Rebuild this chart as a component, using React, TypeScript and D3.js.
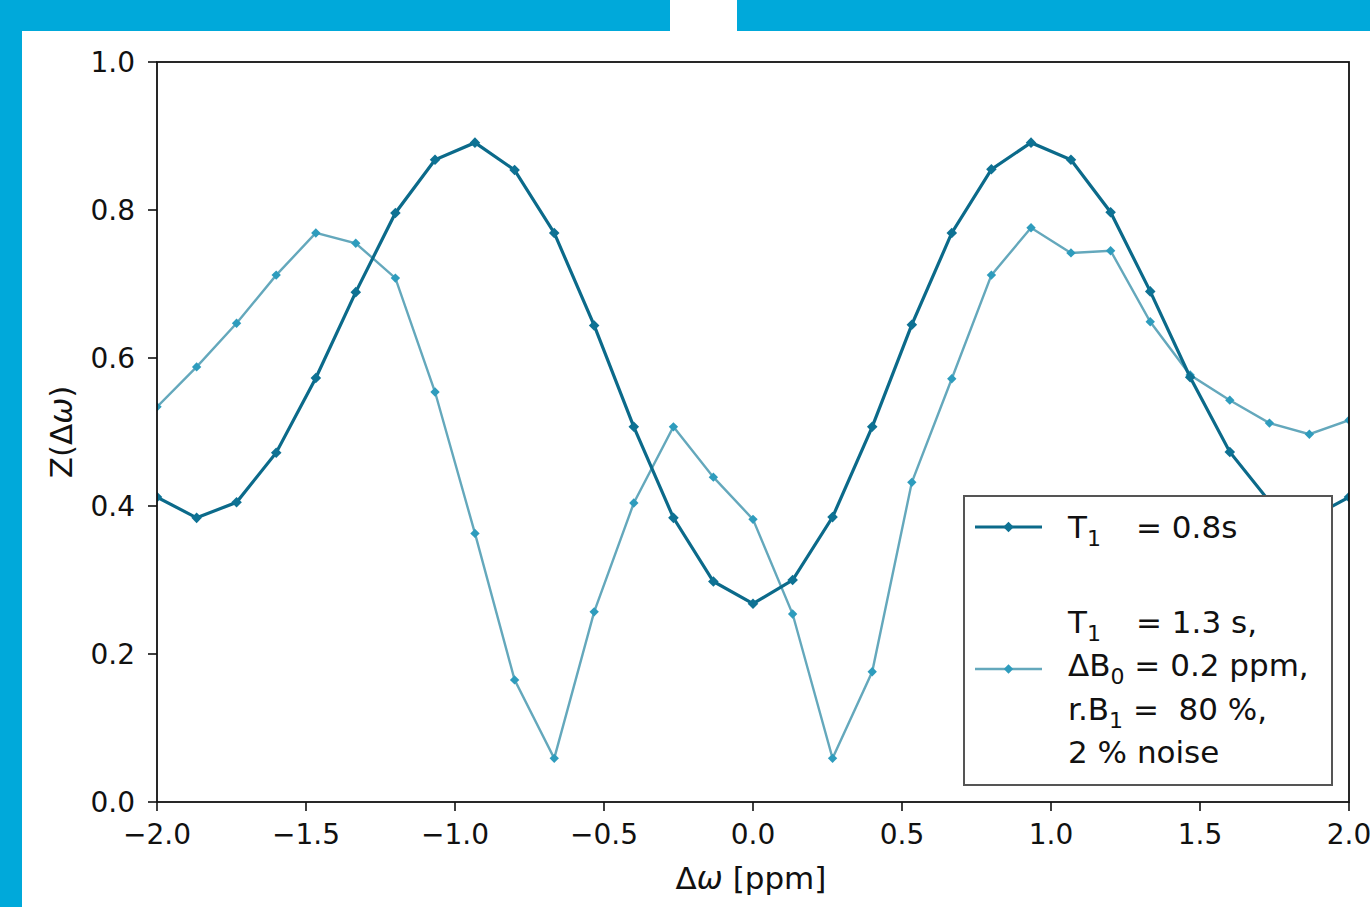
import React from "react";
import * as d3 from "d3";

const xValues = [-2.0, -1.867, -1.733, -1.6, -1.467, -1.333, -1.2, -1.067, -0.933, -0.8, -0.667, -0.533, -0.4, -0.267, -0.133, 0.0, 0.133, 0.267, 0.4, 0.533, 0.667, 0.8, 0.933, 1.067, 1.2, 1.333, 1.467, 1.6, 1.733, 1.867, 2.0];
const seriesT08 = [0.412, 0.384, 0.405, 0.472, 0.573, 0.689, 0.796, 0.868, 0.891, 0.854, 0.769, 0.644, 0.507, 0.384, 0.298, 0.268, 0.300, 0.385, 0.507, 0.645, 0.769, 0.855, 0.891, 0.868, 0.797, 0.690, 0.574, 0.473, 0.406, 0.383, 0.412];
const seriesT13 = [0.534, 0.588, 0.647, 0.712, 0.769, 0.755, 0.708, 0.554, 0.363, 0.165, 0.059, 0.257, 0.404, 0.507, 0.439, 0.382, 0.254, 0.059, 0.176, 0.432, 0.572, 0.712, 0.776, 0.742, 0.745, 0.649, 0.577, 0.543, 0.512, 0.497, 0.516];
const xTicks = [-2.0, -1.5, -1.0, -0.5, 0.0, 0.5, 1.0, 1.5, 2.0];
const yTicks = [0.0, 0.2, 0.4, 0.6, 0.8, 1.0];

const W = 1370, H = 907;
const left = 157, right = 1349, top = 62, bottom = 802;
const FONT = "'DejaVu Sans', sans-serif";
const FS = 28;
const LFS = 31;
const FRAME_BLUE = "#00a9da";
const DARK_LINE = "#0b6a8a";
const DARK_MARK = "#0e7294";
const LIGHT_LINE = "#64a8bc";
const LIGHT_MARK = "#2e9cbd";

const fmt = (v: number) => v.toFixed(1).replace("-", "\u2212");
const NB = "\u00a0";

export default function App() {
  const x = d3.scaleLinear().domain([-2, 2]).range([left, right]);
  const y = d3.scaleLinear().domain([0, 1]).range([bottom, top]);
  const line = d3.line<number>().x((_, i) => x(xValues[i])).y((d) => y(d));
  const markDark = d3.symbol().type(d3.symbolSquare).size(56)();
  const markLight = d3.symbol().type(d3.symbolSquare).size(44)();

  const leg = { x0: 964, y0: 496, x1: 1332, y1: 785 };
  const sampleX0 = 975, sampleX1 = 1042, textX = 1068, eqX = 1136;

  const sub = (s: string) => (
    <tspan fontSize={22} dy={8}>{s}</tspan>
  );

  return (
    <svg width={W} height={H} style={{ position: "absolute", left: 0, top: 0, background: "#fff" }} fontFamily={FONT}>
      <rect x={0} y={0} width={W} height={H} fill="#fff" />
      {/* blue frame */}
      <rect x={0} y={0} width={22} height={H} fill={FRAME_BLUE} />
      <rect x={0} y={0} width={670} height={31} fill={FRAME_BLUE} />
      <rect x={737} y={0} width={W - 737} height={31} fill={FRAME_BLUE} />

      <defs>
        <clipPath id="plotclip">
          <rect x={left} y={top} width={right - left} height={bottom - top} />
        </clipPath>
      </defs>

      {/* series */}
      <g clipPath="url(#plotclip)">
        <path d={line(seriesT13) || ""} fill="none" stroke={LIGHT_LINE} strokeWidth={2.4} />
        {seriesT13.map((v, i) => (
          <path key={"l" + i} d={markLight || ""} transform={`translate(${x(xValues[i])},${y(v)}) rotate(45)`} fill={LIGHT_MARK} />
        ))}
        <path d={line(seriesT08) || ""} fill="none" stroke={DARK_LINE} strokeWidth={3.2} />
        {seriesT08.map((v, i) => (
          <path key={"d" + i} d={markDark || ""} transform={`translate(${x(xValues[i])},${y(v)}) rotate(45)`} fill={DARK_MARK} />
        ))}
      </g>

      {/* frame */}
      <rect x={left} y={top} width={right - left} height={bottom - top} fill="none" stroke="#111" strokeWidth={1.8} />

      {/* x ticks */}
      {xTicks.map((t) => (
        <g key={"x" + t}>
          <line x1={x(t)} x2={x(t)} y1={bottom} y2={bottom + 9} stroke="#111" strokeWidth={1.6} />
          <text x={x(t)} y={bottom + 42} fontSize={FS} textAnchor="middle" fill="#111">{fmt(t)}</text>
        </g>
      ))}
      {/* y ticks */}
      {yTicks.map((t) => (
        <g key={"y" + t}>
          <line x1={left - 9} x2={left} y1={y(t)} y2={y(t)} stroke="#111" strokeWidth={1.6} />
          <text x={left - 22} y={y(t) + 10} fontSize={FS} textAnchor="end" fill="#111">{fmt(t)}</text>
        </g>
      ))}

      {/* axis labels */}
      <text x={(left + right) / 2 - 2} y={889} fontSize={LFS} textAnchor="middle" fill="#111">
        Δ<tspan fontStyle="italic">ω</tspan>{NB}[ppm]
      </text>
      <text transform={`translate(72,${(top + bottom) / 2}) rotate(-90)`} fontSize={LFS} textAnchor="middle" fill="#111">
        Z(Δ<tspan fontStyle="italic">ω</tspan>)
      </text>

      {/* legend */}
      <rect x={leg.x0} y={leg.y0} width={leg.x1 - leg.x0} height={leg.y1 - leg.y0} fill="#fff" stroke="#555" strokeWidth={2} />
      <line x1={sampleX0} x2={sampleX1} y1={527} y2={527} stroke={DARK_LINE} strokeWidth={3.2} />
      <path d={markDark || ""} transform={`translate(${(sampleX0 + sampleX1) / 2},527) rotate(45)`} fill={DARK_MARK} />
      <line x1={sampleX0} x2={sampleX1} y1={669} y2={669} stroke={LIGHT_LINE} strokeWidth={2.4} />
      <path d={markLight || ""} transform={`translate(${(sampleX0 + sampleX1) / 2},669) rotate(45)`} fill={LIGHT_MARK} />

      <g fontSize={LFS} fill="#111">
        <text x={textX} y={538}>
          T{sub("1")}<tspan x={eqX} dy={-8}>{`=${NB}0.8s`}</tspan>
        </text>
        <text x={textX} y={633}>
          T{sub("1")}<tspan x={eqX} dy={-8}>{`=${NB}1.3${NB}s,`}</tspan>
        </text>
        <text x={textX} y={676}>
          ΔB{sub("0")}<tspan dy={-8}>{`${NB}=${NB}0.2${NB}ppm,`}</tspan>
        </text>
        <text x={textX} y={720}>
          r.B{sub("1")}<tspan dy={-8}>{`${NB}=${NB}${NB}80${NB}%,`}</tspan>
        </text>
        <text x={textX} y={763}>{`2${NB}%${NB}noise`}</text>
      </g>
    </svg>
  );
}
